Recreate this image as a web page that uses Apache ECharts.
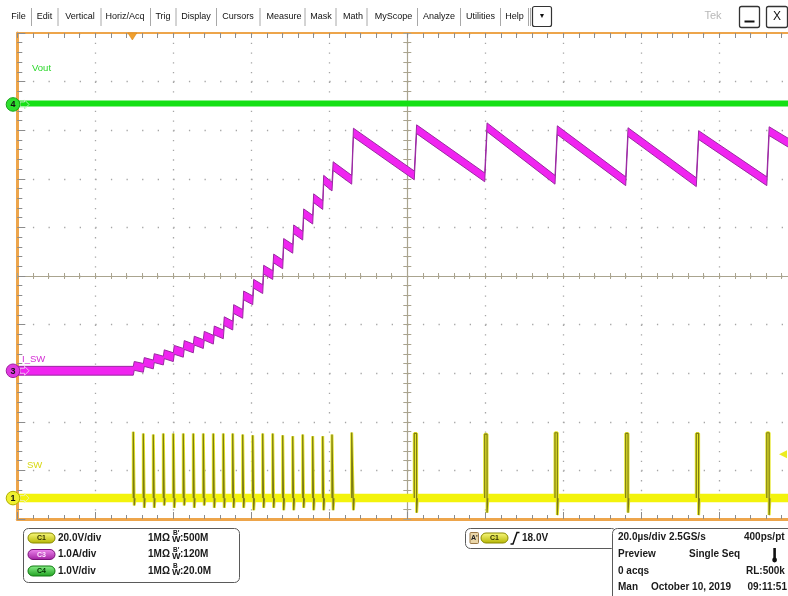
<!DOCTYPE html>
<html>
<head>
<meta charset="utf-8">
<script src="https://cdn.jsdelivr.net/npm/echarts@6.0.0/dist/echarts.min.js"></script>
<style>
html,body{margin:0;padding:0;background:#ffffff;overflow:hidden}
#chart{width:788px;height:596px}
</style>
</head>
<body>
<div id="chart"></div>
<script>
// ===================== DATA =====================
// Horizontal: 20.0 µs/div, 10 divisions across the screen
const timeRangeUs = [0, 200];
const triggerTimeUs = 29.5;
const triggerLevelV = 18.0;

// C1 "SW" switch node pulses
const swPulseStartUs = [29.74, 32.31, 34.87, 37.44, 40.00, 42.56, 45.13, 47.69, 50.26, 52.82,
                        55.23, 57.79, 60.36, 62.92, 65.49, 68.05, 70.62, 73.18, 75.74, 78.31,
                        80.69, 85.74, 101.79, 119.85, 137.87, 156.00, 174.10, 192.18];
const swPulseWidthUs = [0.25, 0.25, 0.25, 0.25, 0.25, 0.25, 0.25, 0.25, 0.25, 0.25,
                        0.25, 0.25, 0.25, 0.25, 0.25, 0.25, 0.25, 0.25, 0.25, 0.25,
                        0.30, 0.45, 0.60, 0.60, 0.60, 0.60, 0.60, 0.60];
const swPulseHighV = [27.3, 26.6, 26.2, 26.6, 26.6, 26.6, 26.6, 26.6, 26.6, 26.6,
                      26.6, 26.2, 25.9, 26.6, 26.6, 25.9, 25.5, 26.2, 25.5, 25.5,
                      26.2, 27.0, 26.6, 26.3, 26.9, 26.6, 26.6, 26.9];
const swUndershootV = [-3, -4, -4, -3, -4, -3, -4, -3, -4, -4,
                       -4, -4, -5, -4, -4, -5, -5, -4, -5, -5,
                       -5, -5, -6, -6, -7, -6, -7, -7];
const swBaselineV = [0, 0];

// C3 "I_SW" current (A), just before and just after each SW pulse
const iswBeforePulseA = [0.00, 0.06, 0.13, 0.21, 0.28, 0.37, 0.46, 0.55, 0.64, 0.75,
                         0.93, 1.17, 1.45, 1.68, 1.97, 2.19, 2.51, 2.78, 3.11, 3.41,
                         3.79, 3.93, 4.02, 3.98, 3.93, 3.90, 3.88, 3.90];
const iswAfterPulseA  = [0.10, 0.18, 0.26, 0.34, 0.43, 0.53, 0.62, 0.72, 0.83, 1.02,
                         1.27, 1.55, 1.79, 2.08, 2.31, 2.63, 2.91, 3.24, 3.55, 3.93,
                         4.21, 4.90, 4.97, 5.01, 4.95, 4.91, 4.85, 4.93];
const iswStartA = 0.00;
const iswEndA = 4.58;

// C4 "Vout" (relative to its channel marker)
const voutTimesUs = [0, 200];
const voutV = [0.02, 0.02];

// ===================== CHANNEL SETTINGS =====================
const chan = {
  c1: { perDiv: 20, offsetDiv: -4.57 },
  c3: { perDiv: 1,  offsetDiv: -1.95 },
  c4: { perDiv: 1,  offsetDiv: 3.53 }
};
const iswBandHalfPx = 4.4;   // visual thickness of the noisy current trace

// ===================== BUILD SERIES DATA =====================
const swBand = timeRangeUs.map((t, i) => [t, swBaselineV[i]]);
const swPulses = [];
swPulseStartUs.forEach((s, i) => {
  const e = s + swPulseWidthUs[i];
  swPulses.push([s, 0], [s, swPulseHighV[i]], [e, swPulseHighV[i]], [e, swUndershootV[i]], [e + 0.2, 0], [e + 0.25, '-']);
});
const iswData = [[timeRangeUs[0], iswStartA]];
swPulseStartUs.forEach((s, i) => {
  iswData.push([s, iswBeforePulseA[i]], [s + swPulseWidthUs[i], iswAfterPulseA[i]]);
});
iswData.push([timeRangeUs[1], iswEndA]);
const voutData = voutTimesUs.map((t, i) => [t, voutV[i]]);

// ===================== CHART =====================
const FONT = '"Liberation Sans", Arial, Helvetica, sans-serif';
const chart = echarts.init(document.getElementById('chart'), null, { renderer: 'canvas' });

const tickGray = '#8c8c8c';
const gridGray = '#a6a6a6';
const centerCol = '#aaa48f';
const orange = '#eda54b';

function gAxis(extra) {
  return Object.assign({
    type: 'value', gridIndex: 0, min: -5, max: 5, interval: 1,
    axisLabel: { show: false },
    splitLine: { show: false },
    axisTick: { show: false },
    minorTick: { show: false },
    axisLine: { show: false, onZero: false }
  }, extra);
}
function chanAxis(c) {
  return { type: 'value', gridIndex: 0, show: false,
    min: (-5 - c.offsetDiv) * c.perDiv, max: (5 - c.offsetDiv) * c.perDiv,
    axisLine: { onZero: false }, splitLine: { show: false } };
}

function renderIswBand(params, api) {
  if (params.dataIndex !== 0) return null;
  const pts = iswData.map(p => api.coord(p));
  const upper = pts.map(p => [p[0], p[1] - iswBandHalfPx]);
  const lower = pts.map(p => [p[0], p[1] + iswBandHalfPx]);
  return { type: 'group', children: [
    { type: 'polygon', shape: { points: upper.concat(lower.slice().reverse()) }, style: { fill: '#f024f0' } },
    { type: 'polyline', shape: { points: upper }, style: { stroke: '#9a2aa2', lineWidth: 1, fill: null } },
    { type: 'polyline', shape: { points: lower }, style: { stroke: '#9a2aa2', lineWidth: 1, fill: null } }
  ] };
}

const option = {
  backgroundColor: '#ffffff',
  animation: false,
  grid: [{ left: 17.3, top: 33, width: 780, height: 486, outerBoundsMode: 'none', containLabel: false }],
  xAxis: [
    gAxis({ position: 'bottom',
      axisLine: { show: true, onZero: false, lineStyle: { color: orange, width: 3 } },
      axisTick: { show: true, inside: true, length: 7, lineStyle: { color: tickGray } },
      minorTick: { show: true, splitNumber: 5, length: 4, lineStyle: { color: tickGray } },
      splitLine: { show: true, lineStyle: { color: gridGray, width: 1.3, type: [1.3, 8.42] } } }),
    gAxis({ position: 'top',
      axisLine: { show: true, onZero: false, lineStyle: { color: orange, width: 2 } },
      axisTick: { show: true, inside: true, length: 5, lineStyle: { color: tickGray } },
      minorTick: { show: true, splitNumber: 5, length: 5, lineStyle: { color: tickGray } } }),
    gAxis({ position: 'bottom',
      axisLine: { show: true, onZero: true, onZeroAxisIndex: 0, lineStyle: { color: centerCol, width: 1.2 } },
      axisTick: { show: true, inside: false, length: 3, lineStyle: { color: centerCol } },
      minorTick: { show: true, splitNumber: 5, length: 3, lineStyle: { color: centerCol } } }),
    gAxis({ position: 'bottom',
      axisLine: { show: false, onZero: true, onZeroAxisIndex: 0 },
      axisTick: { show: true, inside: true, length: 3, lineStyle: { color: centerCol } },
      minorTick: { show: true, splitNumber: 5, length: 3, lineStyle: { color: centerCol } } }),
    { type: 'value', gridIndex: 0, show: false, min: timeRangeUs[0], max: timeRangeUs[1],
      axisLine: { onZero: false }, splitLine: { show: false } }
  ],
  yAxis: [
    gAxis({ position: 'left',
      axisLine: { show: true, onZero: true, onZeroAxisIndex: 0, lineStyle: { color: centerCol, width: 1.2 } },
      axisTick: { show: true, inside: false, length: 4, lineStyle: { color: centerCol } },
      minorTick: { show: true, splitNumber: 5, length: 4, lineStyle: { color: centerCol } } }),
    gAxis({ position: 'left',
      axisLine: { show: false, onZero: true, onZeroAxisIndex: 0 },
      axisTick: { show: true, inside: true, length: 4, lineStyle: { color: centerCol } },
      minorTick: { show: true, splitNumber: 5, length: 4, lineStyle: { color: centerCol } } }),
    gAxis({ position: 'left',
      axisLine: { show: true, onZero: false, lineStyle: { color: orange, width: 3 } },
      axisTick: { show: true, inside: true, length: 8, lineStyle: { color: tickGray } },
      minorTick: { show: true, splitNumber: 5, length: 5, lineStyle: { color: tickGray } },
      splitLine: { show: true, lineStyle: { color: gridGray, width: 1.3, type: [1.3, 14.3] } } }),
    chanAxis(chan.c1),
    chanAxis(chan.c3),
    chanAxis(chan.c4)
  ],
  series: [
    { name: 'Vout', type: 'line', xAxisIndex: 4, yAxisIndex: 5, data: voutData, symbol: 'none', silent: true, z: 3,
      lineStyle: { color: '#14e014', width: 6 } },
    { name: 'I_SW', type: 'custom', xAxisIndex: 4, yAxisIndex: 4, data: iswData, silent: true, z: 5, clip: true,
      encode: { x: 0, y: 1 }, renderItem: renderIswBand },
    { name: 'SW band', type: 'line', xAxisIndex: 4, yAxisIndex: 3, data: swBand, symbol: 'none', silent: true, z: 3,
      lineStyle: { color: '#f3f30c', width: 8.5 } },
    { name: 'SW pulses glow', type: 'line', xAxisIndex: 4, yAxisIndex: 3, data: swPulses, symbol: 'none', silent: true, z: 4,
      connectNulls: false, lineStyle: { color: '#e8e82a', width: 3 } },
    { name: 'SW pulses', type: 'line', xAxisIndex: 4, yAxisIndex: 3, data: swPulses, symbol: 'none', silent: true, z: 5,
      connectNulls: false, lineStyle: { color: '#7c7c14', width: 1.2 } }
  ]
};
chart.setOption(option);

// ===================== DECORATIONS (scope UI) =====================
function T(x, y, text, o) {
  o = o || {};
  const al = o.align || 'left';
  return { type: 'text', z: o.z || 102, silent: true, style: {
    x: x, y: y, text: text, fill: o.fill || '#1a1a1a',
    font: (o.weight || 'normal') + ' ' + (o.size || 10) + 'px ' + FONT,
    align: al, textAlign: al, verticalAlign: 'middle', textVerticalAlign: 'middle' } };
}
function R(x, y, w, h, r, fill, stroke, lw) {
  return { type: 'rect', z: 99, silent: true, shape: { x: x, y: y, width: w, height: h, r: r },
    style: { fill: fill, stroke: stroke, lineWidth: lw || 1 } };
}
function L(x1, y1, x2, y2, stroke, lw) {
  return { type: 'line', z: 99, silent: true, shape: { x1: x1, y1: y1, x2: x2, y2: y2 },
    style: { stroke: stroke, lineWidth: lw || 1 } };
}
function grad(c1, c2) {
  return new echarts.graphic.LinearGradient(0, 0, 0, 1, [{ offset: 0, color: c1 }, { offset: 1, color: c2 }]);
}
function pill(x, y, label, c1, c2, stroke, tc) {
  return [
    R(x, y - 5, 27, 10, 5, grad(c1, c2), stroke, 1),
    T(x + 13.5, y + 0.5, label, { size: 7, weight: 'bold', align: 'center', fill: tc })
  ];
}

const g = [];
// menu bar
const menuItems = ['File', 'Edit', 'Vertical', 'Horiz/Acq', 'Trig', 'Display', 'Cursors', 'Measure', 'Mask', 'Math', 'MyScope', 'Analyze', 'Utilities', 'Help'];
const menuX = [18.5, 44.5, 80, 125, 163, 196, 238, 284, 321, 353, 393.5, 439, 480.5, 514.5];
const sepX = [31.5, 58, 101, 150.5, 176, 216.5, 260, 305, 336, 367, 417.5, 460.5, 500.5, 528.5];
menuItems.forEach((m, i) => g.push(T(menuX[i], 16.5, m, { size: 9, align: 'center', fill: '#111' })));
sepX.forEach(x => g.push(L(x, 8, x, 26, '#a8a8a8', 1)));
g.push(L(530.5, 8, 530.5, 26, '#a8a8a8', 1));
g.push(R(532.5, 6.5, 19, 20, 2, '#ffffff', '#333', 1.2));
g.push(T(542, 16.5, '▼', { size: 7, align: 'center', fill: '#111' }));
g.push(T(713, 16, 'Tek', { size: 11, align: 'center', fill: '#b8b8b8' }));
g.push(R(739.5, 6.5, 20, 21, 2, '#ffffff', '#333', 1.3));
g.push(L(744.5, 21.5, 754.5, 21.5, '#111', 2));
g.push(R(766.5, 6.5, 21, 21, 2, '#ffffff', '#333', 1.3));
g.push(T(777, 17, 'X', { size: 12, align: 'center', fill: '#111' }));

// channel labels
g.push(T(32, 68, 'Vout', { size: 9.5, fill: '#28d828' }));
g.push(T(22, 359, 'I_SW', { size: 9.5, fill: '#d42cd4' }));
g.push(T(27, 465, 'SW', { size: 9.5, fill: '#d8d810' }));

// bottom panel 1 (vertical settings)
g.push(R(23.5, 528.5, 216, 54, 5, '#ffffff', '#5a5a5a', 1));
const rowsY = [538, 554.5, 571];
g.push(...pill(28, rowsY[0], 'C1', '#fbfb80', '#b4b400', '#8a8a00', '#333300'));
g.push(...pill(28, rowsY[1], 'C3', '#f08af0', '#a01ea0', '#7a107a', '#ffe6ff'));
g.push(...pill(28, rowsY[2], 'C4', '#8cf08c', '#1ea01e', '#107a10', '#003300'));
const vScaleTxt = ['20.0V/div', '1.0A/div', '1.0V/div'];
const bwTxt = [':500M', ':120M', ':20.0M'];
const bwMark = ['B\u2032', 'B\u2032', 'B'];
rowsY.forEach((y, i) => {
  g.push(T(58, y, vScaleTxt[i], { weight: 'bold' }));
  g.push(T(148, y, '1M\u03A9', { weight: 'bold' }));
  g.push(T(173, y - 4.5, bwMark[i], { weight: 'bold', size: 6.5 }));
  g.push(T(172, y + 2, 'W', { weight: 'bold', size: 9 }));
  g.push(T(180, y, bwTxt[i], { weight: 'bold' }));
});

// bottom panel 2 (trigger)
g.push(R(465.5, 528.5, 151, 20, 5, '#ffffff', '#5a5a5a', 1));
g.push(R(470, 532.5, 8.5, 11, 1, '#ead6a8', '#9c7a48', 1));
g.push(T(474.3, 538.5, "A'", { size: 7, weight: 'bold', align: 'center', fill: '#222' }));
g.push(...pill(481, 538, 'C1', '#fbfb80', '#b4b400', '#8a8a00', '#333300'));
g.push({ type: 'polyline', z: 100, silent: true, shape: { points: [[510.5, 544], [513, 544], [517, 532.5], [519.5, 532.5]] },
  style: { stroke: '#111', lineWidth: 1.5, fill: null } });
g.push(T(522, 538, '18.0V', { weight: 'bold' }));

// bottom panel 3 (horizontal / acquisition)
g.push(R(612.5, 528.5, 190, 80, 5, '#ffffff', '#5a5a5a', 1));
g.push(T(618, 537.5, '20.0\u00B5s/div', { weight: 'bold' }));
g.push(T(669, 537.5, '2.5GS/s', { weight: 'bold' }));
g.push(T(744, 537.5, '400ps/pt', { weight: 'bold' }));
g.push(T(618, 554.5, 'Preview', { weight: 'bold' }));
g.push(T(689, 554.5, 'Single Seq', { weight: 'bold' }));
g.push(R(773.3, 548, 2.6, 11, 0, '#111', null, 0));
g.push({ type: 'circle', z: 100, silent: true, shape: { cx: 774.6, cy: 560, r: 2.4 }, style: { fill: '#111' } });
g.push(T(618, 571, '0 acqs', { weight: 'bold' }));
g.push(T(746, 571, 'RL:500k', { weight: 'bold' }));
g.push(T(618, 587.5, 'Man', { weight: 'bold' }));
g.push(T(651, 587.5, 'October 10, 2019', { weight: 'bold' }));
g.push(T(747.5, 587.5, '09:11:51', { weight: 'bold' }));

// trigger position marker (top) and trigger level arrow (right), from axis scales
const trigX = chart.convertToPixel({ xAxisIndex: 4 }, triggerTimeUs);
g.push({ type: 'polygon', z: 101, silent: true, shape: { points: [[trigX - 4.5, 33], [trigX + 4.5, 33], [trigX, 40]] },
  style: { fill: '#f0a030', stroke: '#d08010', lineWidth: 0.5 } });
const trigY = chart.convertToPixel({ yAxisIndex: 3 }, triggerLevelV);
g.push({ type: 'polygon', z: 101, silent: true, shape: { points: [[779, trigY], [787, trigY - 4], [787, trigY + 4]] },
  style: { fill: '#ecec20' } });

// channel ground markers on the left edge
const markers = [
  { axis: 5, label: '4', fill: '#2ee02e', stroke: '#18a018', arrow: '#b8f0b8' },
  { axis: 4, label: '3', fill: '#e03ae0', stroke: '#a020a0', arrow: '#f0b8f0' },
  { axis: 3, label: '1', fill: '#f0f030', stroke: '#b0b000', arrow: '#f0f0a0' }
];
markers.forEach(m => {
  const y = chart.convertToPixel({ yAxisIndex: m.axis }, 0);
  g.push({ type: 'polygon', z: 100, silent: true,
    shape: { points: [[20, y - 2.5], [24.5, y - 2.5], [24.5, y - 4.5], [29, y], [24.5, y + 4.5], [24.5, y + 2.5], [20, y + 2.5]] },
    style: { fill: null, stroke: m.arrow, lineWidth: 1 } });
  g.push({ type: 'circle', z: 101, silent: true, shape: { cx: 13, cy: y, r: 6.8 },
    style: { fill: m.fill, stroke: m.stroke, lineWidth: 1 } });
  g.push(T(13, y + 0.5, m.label, { size: 9, weight: 'bold', align: 'center', fill: '#111', z: 103 }));
});

chart.setOption({ graphic: { elements: g } });
</script>
</body>
</html>
